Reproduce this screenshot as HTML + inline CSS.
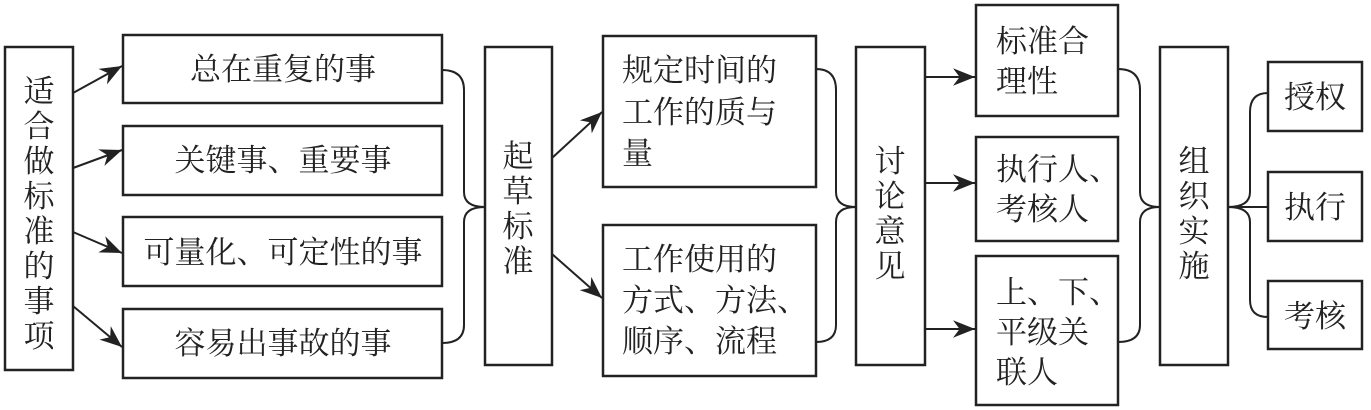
<!DOCTYPE html>
<html><head><meta charset="utf-8"><style>
html,body{margin:0;padding:0;background:#fff;}
svg{display:block;}
text{font-family:"Liberation Serif","Noto Serif CJK SC",serif;font-size:31px;fill:#222;}
</style></head><body>
<svg width="1371" height="410" viewBox="0 0 1371 410" xmlns="http://www.w3.org/2000/svg">
<defs><marker id="a" viewBox="0 0 10 10" refX="10" refY="5" markerWidth="9" markerHeight="9" markerUnits="userSpaceOnUse" orient="auto"><path d="M0,0 L10,5 L0,10 L3,5 z" fill="#222"/></marker>
<marker id="b" viewBox="0 0 10 10" refX="10" refY="5" markerWidth="22" markerHeight="22" markerUnits="userSpaceOnUse" orient="auto"><path d="M0,1 L10,5 L0,9 L3,5 z" fill="#222"/></marker></defs>
<g fill="none" stroke="#222" stroke-width="2.5">
<rect x="5" y="47" width="68" height="323"/>
<rect x="123" y="35" width="319" height="68"/>
<rect x="123" y="126" width="319" height="69"/>
<rect x="123" y="217" width="319" height="69"/>
<rect x="123" y="309" width="319" height="69"/>
<rect x="485" y="47" width="67" height="318"/>
<rect x="603" y="36" width="213" height="151"/>
<rect x="603" y="225" width="213" height="151"/>
<rect x="856" y="47" width="69" height="318"/>
<rect x="976" y="5" width="142" height="111"/>
<rect x="976" y="137" width="142" height="104"/>
<rect x="976" y="256" width="142" height="149"/>
<rect x="1160" y="47" width="68" height="318"/>
<rect x="1268" y="62" width="94" height="69"/>
<rect x="1268" y="172" width="94" height="69"/>
<rect x="1268" y="281" width="94" height="68"/>
</g>
<g fill="none" stroke="#222" stroke-width="2">
<line x1="73" y1="93" x2="122" y2="66" marker-end="url(#b)"/>
<line x1="73" y1="168" x2="122" y2="150" marker-end="url(#b)"/>
<line x1="73" y1="232" x2="122" y2="253" marker-end="url(#b)"/>
<line x1="73" y1="306" x2="122" y2="347" marker-end="url(#b)"/>
<line x1="552" y1="158" x2="602" y2="112" marker-end="url(#b)"/>
<line x1="552" y1="254" x2="602" y2="298" marker-end="url(#b)"/>
<line x1="925" y1="77" x2="975" y2="77" marker-end="url(#b)"/>
<line x1="925" y1="183" x2="975" y2="183" marker-end="url(#b)"/>
<line x1="925" y1="329" x2="975" y2="329" marker-end="url(#b)"/>
<path d="M442,70 Q464,70 464,90 L464,192 Q464,207 485,207 Q464,207 464,222 L464,325 Q464,343 442,343"/>
<path d="M816,69 Q836,69 836,90 L836,192 Q836,207 856,207 Q836,207 836,222 L836,325 Q836,342 816,342"/>
<path d="M1118,69 Q1140,69 1140,90 L1140,192 Q1140,207 1160,207 Q1140,207 1140,222 L1140,325 Q1140,342 1118,342"/>
<path d="M1268,93 Q1250,93 1250,112 L1250,192 Q1250,207 1228,207 Q1250,207 1250,222 L1250,300 Q1250,317 1268,317"/>
<line x1="1228" y1="207" x2="1268" y2="207"/>
</g>
<g text-anchor="middle">
<text x="39" y="102">适</text><text x="39" y="137">合</text><text x="39" y="172">做</text><text x="39" y="207">标</text><text x="39" y="242">准</text><text x="39" y="277">的</text><text x="39" y="312">事</text><text x="39" y="347">项</text>
<text x="283" y="80">总在重复的事</text>
<text x="283" y="171">关键事、重要事</text>
<text x="283" y="263">可量化、可定性的事</text>
<text x="283" y="354">容易出事故的事</text>
<text x="518" y="167">起</text><text x="518" y="202">草</text><text x="518" y="237">标</text><text x="518" y="272">准</text>
<text x="890" y="172">讨</text><text x="890" y="207">论</text><text x="890" y="242">意</text><text x="890" y="277">见</text>
<text x="1194" y="172">组</text><text x="1194" y="207">织</text><text x="1194" y="242">实</text><text x="1194" y="277">施</text>
<text x="1315" y="108">授权</text>
<text x="1315" y="218">执行</text>
<text x="1315" y="327">考核</text>
</g>
<g>
<text x="622" y="81">规定时间的</text>
<text x="622" y="123">工作的质与</text>
<text x="622" y="164">量</text>
<text x="622" y="270">工作使用的</text>
<text x="622" y="311">方式、方法、</text>
<text x="622" y="352">顺序、流程</text>
<text x="996" y="52">标准合</text>
<text x="996" y="92">理性</text>
<text x="996" y="180">执行人、</text>
<text x="996" y="220">考核人</text>
<text x="996" y="303">上、下、</text>
<text x="996" y="343">平级关</text>
<text x="996" y="383">联人</text>
</g>
</svg>
</body></html>
